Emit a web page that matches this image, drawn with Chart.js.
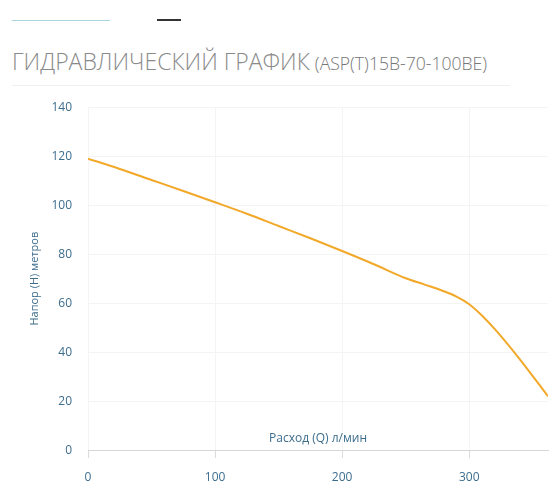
<!DOCTYPE html>
<html>
<head>
<meta charset="utf-8">
<script src="https://cdn.jsdelivr.net/npm/chart.js@4"></script>
<style>
  body { margin: 0; background: #fff; width: 560px; height: 504px; overflow: hidden; position: relative; font-family: "Open Sans", sans-serif; }
  .tab-line { position: absolute; left: 12px; top: 20px; width: 98px; height: 1px; background: #a8d3df; }
  .tab-dash { position: absolute; left: 157px; top: 19px; width: 24px; height: 2px; background: #333; }
  h1 { position: absolute; left: 12px; top: 45px; margin: 0; font-weight: 300; font-size: 23px; color: #8a8a8a; white-space: nowrap; letter-spacing: 0; }
  h1 small { font-size: 17.6px; color: #777; margin-left: -1px; }
  .sep { position: absolute; left: 12px; top: 85px; width: 498px; height: 1px; background: #efefef; }
  .chart-box { position: absolute; left: 0; top: 84px; width: 560px; height: 420px; }
</style>
</head>
<body>
<div class="tab-line"></div>
<div class="tab-dash"></div>
<h1>ГИДРАВЛИЧЕСКИЙ ГРАФИК <small>(ASP(T)15B-70-100BE)</small></h1>
<div class="sep"></div>
<div class="chart-box"><canvas id="pumpChart"></canvas></div>
<script>
// flow, l/min
const flowValues = [0, 25, 50, 75, 100, 125, 150, 175, 200, 225, 250, 265, 280, 290, 300, 310, 320, 340, 362];
// head, metres
const headValues = [119, 114.8, 110.3, 105.8, 101.2, 96.5, 91.5, 86.5, 81.3, 75.9, 70.2, 67.6, 64.9, 62.7, 59.6, 55, 49.5, 37, 22];
const flowTicks = [0, 100, 200, 300];
const flowMax = 362;
const headMax = 140;

const axisColor = "#3d6d8d";

new Chart(document.getElementById("pumpChart"), {
  type: "line",
  data: {
    datasets: [
      {
        label: "H(Q)",
        data: flowValues.map((q, i) => ({ x: q, y: headValues[i] })),
        borderColor: "#f2a829",
        borderWidth: 2,
        pointRadius: 0,
        tension: 0.4,
        cubicInterpolationMode: "monotone",
        fill: false,
      },
    ],
  },
  options: {
    responsive: true,
    maintainAspectRatio: false,
    animation: false,
    layout: { padding: { top: 5, right: 12, left: 0, bottom: 0 } },
    plugins: { legend: { display: false }, tooltip: { enabled: false } },
    scales: {
      x: {
        type: "linear",
        min: 0,
        max: flowMax,
        afterBuildTicks: (scale) => { scale.ticks = flowTicks.map((v) => ({ value: v })); },
        ticks: { color: axisColor, padding: 12, font: { family: "Open Sans", size: 12 } },
        grid: { color: "#f4f4f4", tickColor: "#dcdcdc", tickLength: 8 },
        border: { color: "#d6d6d6" },
        title: {
          display: true,
          text: "Расход (Q) л/мин",
          color: axisColor,
          font: { family: "Open Sans", size: 12 },
          padding: { top: -65, bottom: 58 },
        },
      },
      y: {
        min: 0,
        max: headMax,
        ticks: { stepSize: 20, color: axisColor, padding: 16, font: { family: "Open Sans", size: 12 } },
        grid: { color: "#f4f4f4", drawTicks: false },
        border: { display: false },
        title: {
          display: true,
          text: "Напор (Н) метров",
          color: axisColor,
          font: { family: "Open Sans", size: 11 },
          padding: { top: 28, bottom: 0 },
        },
        afterFit: (scale) => { scale.width = 88; },
      },
    },
  },
});
</script>
</body>
</html>
